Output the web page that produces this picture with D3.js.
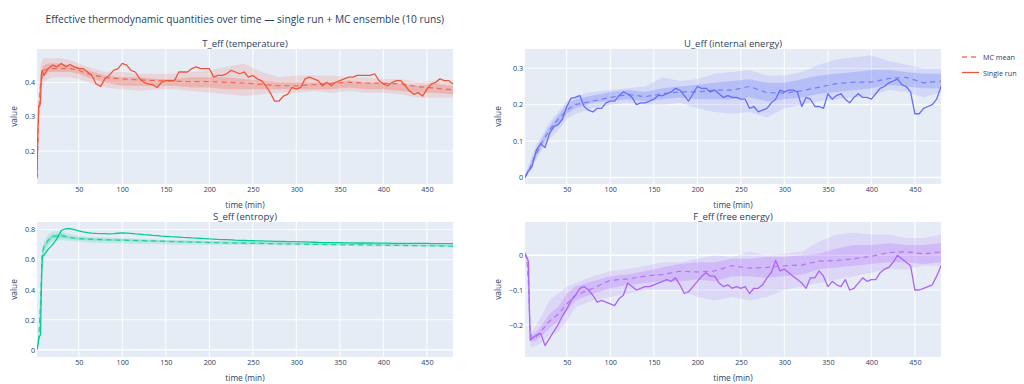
<!DOCTYPE html>
<html>
<head>
<meta charset="utf-8">
<script src="https://cdn.jsdelivr.net/npm/d3@7"></script>
<style>
  body { margin: 0; background: #fff; }
  text { font-family: "Open Sans", verdana, arial, sans-serif; fill: #2a3f5f; }
</style>
</head>
<body>
<svg id="chart" width="1024" height="384"></svg>
<script>
// time grid of the single run (minutes)
const times = [2,3,4,5,6,7,8,10,15,20,25,30,35,40,45,50,55,60,65,70,75,80,85,90,95,100,
  105,110,115,120,125,130,135,140,145,150,155,160,165,170,175,180,185,190,195,200,
  205,210,215,220,225,230,235,240,245,250,255,260,265,270,275,280,285,290,295,300,
  305,310,315,320,325,330,335,340,345,350,355,360,365,370,375,380,385,390,395,400,
  405,410,415,420,425,430,435,440,445,450,455,460,465,470,475,480];

// coarser grid for the MC ensemble mean and bands
const bandTimes = [2,4,6,8,10,15,20,30,40,50,60,80,100,120,140,160,180,200,220,240,260,280,300,320,340,360,380,400,420,440,460,480];

// ---- T_eff
const tSingle = [0.125,0.26,0.33,0.33,0.34,0.42,0.435,0.42,0.44,0.45,0.445,0.455,0.445,0.452,0.445,0.44,0.44,0.43,0.42,0.395,0.388,0.41,0.42,0.435,0.44,0.455,
  0.45,0.435,0.43,0.41,0.40,0.395,0.393,0.385,0.40,0.405,0.405,0.405,0.43,0.43,0.43,0.44,0.445,0.44,0.44,0.44,
  0.415,0.42,0.42,0.425,0.435,0.43,0.425,0.43,0.415,0.42,0.41,0.405,0.39,0.37,0.345,0.345,0.36,0.365,0.385,0.38,
  0.385,0.41,0.415,0.41,0.405,0.39,0.40,0.39,0.40,0.405,0.41,0.415,0.415,0.42,0.42,0.42,0.42,0.425,0.405,0.395,
  0.39,0.40,0.405,0.405,0.39,0.375,0.365,0.37,0.36,0.38,0.395,0.40,0.41,0.405,0.405,0.395];
const tMean = [0.12,0.32,0.39,0.42,0.435,0.44,0.44,0.44,0.44,0.435,0.425,0.414,0.41,0.407,0.405,0.403,0.402,0.402,0.40,0.398,0.394,0.39,0.39,0.393,0.397,0.40,0.398,0.397,0.396,0.387,0.383,0.378];
const tOuterLo = [0.115,0.30,0.36,0.39,0.40,0.41,0.415,0.415,0.415,0.41,0.40,0.385,0.38,0.375,0.38,0.38,0.375,0.37,0.365,0.36,0.365,0.37,0.37,0.375,0.37,0.375,0.37,0.37,0.365,0.355,0.355,0.355];
const tOuterHi = [0.13,0.37,0.45,0.465,0.47,0.47,0.47,0.47,0.465,0.455,0.445,0.43,0.43,0.425,0.425,0.425,0.43,0.435,0.445,0.455,0.43,0.415,0.42,0.42,0.42,0.415,0.415,0.41,0.41,0.40,0.405,0.40];
const tInnerLo = [0.118,0.31,0.375,0.405,0.42,0.43,0.43,0.43,0.43,0.425,0.415,0.40,0.39,0.39,0.39,0.39,0.385,0.385,0.38,0.38,0.38,0.38,0.38,0.38,0.38,0.385,0.38,0.38,0.375,0.37,0.37,0.365];
const tInnerHi = [0.125,0.34,0.41,0.44,0.45,0.455,0.455,0.455,0.45,0.445,0.435,0.42,0.415,0.415,0.41,0.41,0.415,0.415,0.415,0.41,0.405,0.40,0.40,0.40,0.40,0.405,0.40,0.40,0.395,0.39,0.395,0.39];

// ---- U_eff
const uSingle = [0.0,0.005,0.01,0.015,0.018,0.02,0.023,0.03,0.075,0.093,0.082,0.12,0.14,0.145,0.16,0.195,0.218,0.22,0.225,0.195,0.185,0.18,0.19,0.19,0.205,0.21,
  0.21,0.225,0.235,0.23,0.22,0.20,0.205,0.205,0.21,0.215,0.225,0.225,0.23,0.235,0.245,0.24,0.225,0.21,0.23,0.25,
  0.245,0.245,0.235,0.24,0.23,0.22,0.225,0.22,0.22,0.215,0.215,0.19,0.195,0.18,0.185,0.19,0.205,0.215,0.24,0.235,
  0.24,0.24,0.235,0.195,0.22,0.215,0.195,0.195,0.19,0.23,0.215,0.225,0.23,0.215,0.205,0.22,0.23,0.22,0.22,0.215,
  0.23,0.245,0.25,0.26,0.265,0.27,0.255,0.25,0.235,0.175,0.175,0.19,0.195,0.20,0.215,0.25];
const uMean = [0,0.008,0.017,0.027,0.04,0.065,0.09,0.13,0.16,0.185,0.20,0.21,0.22,0.228,0.222,0.23,0.235,0.235,0.24,0.24,0.25,0.233,0.232,0.238,0.248,0.258,0.262,0.262,0.272,0.275,0.26,0.265];
const uOuterLo = [0,0.005,0.01,0.018,0.03,0.05,0.07,0.105,0.13,0.16,0.175,0.19,0.20,0.205,0.20,0.20,0.205,0.19,0.18,0.175,0.18,0.165,0.19,0.20,0.21,0.215,0.22,0.225,0.24,0.235,0.22,0.235];
const uOuterHi = [0.002,0.02,0.035,0.045,0.06,0.09,0.11,0.15,0.18,0.21,0.225,0.235,0.24,0.245,0.25,0.275,0.265,0.27,0.285,0.29,0.295,0.28,0.28,0.29,0.31,0.325,0.33,0.335,0.32,0.31,0.30,0.30];
const uInnerLo = [0,0.006,0.013,0.022,0.035,0.058,0.08,0.12,0.145,0.175,0.19,0.205,0.21,0.215,0.21,0.215,0.22,0.215,0.215,0.215,0.22,0.21,0.215,0.22,0.23,0.235,0.24,0.245,0.255,0.25,0.245,0.245];
const uInnerHi = [0.001,0.012,0.025,0.035,0.05,0.075,0.10,0.14,0.17,0.20,0.215,0.225,0.235,0.24,0.235,0.245,0.25,0.255,0.26,0.265,0.27,0.26,0.26,0.27,0.28,0.285,0.29,0.295,0.295,0.29,0.285,0.285];

// ---- S_eff
const sSingle = [0,0.03,0.07,0.09,0.10,0.40,0.62,0.63,0.67,0.70,0.74,0.795,0.806,0.806,0.80,0.792,0.785,0.78,0.777,0.775,0.774,0.773,0.772,0.773,0.776,0.778,
  0.777,0.775,0.772,0.77,0.767,0.765,0.762,0.76,0.757,0.755,0.753,0.752,0.75,0.748,0.747,0.745,0.744,0.742,0.74,0.738,
  0.737,0.735,0.734,0.733,0.732,0.73,0.729,0.728,0.727,0.726,0.725,0.725,0.724,0.723,0.722,0.722,0.721,0.72,0.72,0.72,
  0.719,0.718,0.717,0.716,0.715,0.714,0.713,0.713,0.713,0.713,0.712,0.712,0.712,0.711,0.711,0.711,0.711,0.71,0.71,0.71,
  0.71,0.709,0.709,0.709,0.709,0.708,0.708,0.708,0.708,0.708,0.707,0.707,0.707,0.707,0.707,0.707];
const sMean = [0,0.08,0.3,0.64,0.69,0.73,0.755,0.76,0.747,0.74,0.737,0.733,0.73,0.727,0.724,0.72,0.717,0.714,0.712,0.71,0.708,0.706,0.704,0.702,0.70,0.699,0.698,0.696,0.695,0.693,0.691,0.689];
const sOuterLo = [0,0.05,0.2,0.55,0.62,0.69,0.72,0.73,0.725,0.72,0.715,0.71,0.71,0.705,0.705,0.70,0.70,0.70,0.70,0.697,0.696,0.695,0.694,0.693,0.692,0.691,0.69,0.689,0.688,0.686,0.684,0.682];
const sOuterHi = [0.005,0.15,0.45,0.68,0.72,0.77,0.79,0.79,0.77,0.76,0.755,0.75,0.745,0.74,0.735,0.73,0.73,0.725,0.722,0.72,0.718,0.716,0.715,0.713,0.712,0.71,0.708,0.706,0.705,0.703,0.701,0.70];
const sInnerLo = [0,0.07,0.26,0.6,0.66,0.71,0.74,0.745,0.74,0.732,0.73,0.725,0.722,0.72,0.717,0.714,0.712,0.71,0.708,0.706,0.705,0.703,0.702,0.70,0.699,0.698,0.697,0.695,0.694,0.692,0.69,0.688];
const sInnerHi = [0.002,0.1,0.36,0.66,0.70,0.745,0.77,0.775,0.755,0.748,0.745,0.74,0.737,0.733,0.73,0.727,0.725,0.722,0.72,0.717,0.715,0.713,0.711,0.709,0.708,0.707,0.705,0.703,0.702,0.70,0.698,0.696];

// ---- F_eff
const fSingle = [0.005,0.0,-0.005,-0.01,-0.02,-0.15,-0.245,-0.24,-0.23,-0.225,-0.26,-0.24,-0.22,-0.20,-0.175,-0.155,-0.13,-0.115,-0.095,-0.09,-0.10,-0.115,-0.135,-0.13,-0.135,-0.14,
  -0.145,-0.125,-0.115,-0.08,-0.09,-0.10,-0.095,-0.09,-0.09,-0.085,-0.08,-0.075,-0.07,-0.075,-0.065,-0.085,-0.11,-0.105,-0.09,-0.075,
  -0.06,-0.05,-0.06,-0.06,-0.08,-0.09,-0.085,-0.095,-0.09,-0.095,-0.09,-0.11,-0.095,-0.095,-0.085,-0.065,-0.05,-0.015,-0.045,-0.04,
  -0.05,-0.06,-0.07,-0.08,-0.095,-0.065,-0.065,-0.045,-0.06,-0.09,-0.075,-0.085,-0.09,-0.07,-0.10,-0.095,-0.08,-0.065,-0.075,-0.07,
  -0.07,-0.05,-0.04,-0.035,-0.02,0.0,-0.01,-0.02,-0.03,-0.10,-0.10,-0.095,-0.09,-0.085,-0.06,-0.03];
const fMean = [0.005,-0.01,-0.08,-0.22,-0.24,-0.235,-0.22,-0.19,-0.17,-0.14,-0.115,-0.095,-0.072,-0.068,-0.06,-0.055,-0.046,-0.048,-0.045,-0.03,-0.037,-0.035,-0.03,-0.028,-0.017,-0.015,-0.01,-0.003,0.008,0.01,0.004,0.01];
const fOuterLo = [0.0,-0.03,-0.15,-0.26,-0.265,-0.26,-0.255,-0.23,-0.22,-0.19,-0.15,-0.13,-0.12,-0.11,-0.10,-0.10,-0.10,-0.12,-0.13,-0.12,-0.13,-0.12,-0.10,-0.09,-0.08,-0.07,-0.06,-0.05,-0.04,-0.04,-0.03,-0.03];
const fOuterHi = [0.01,0.005,-0.02,-0.2,-0.22,-0.2,-0.18,-0.13,-0.11,-0.09,-0.08,-0.06,-0.045,-0.04,-0.03,-0.02,-0.02,-0.01,0.0,-0.005,0.01,0.0,0.005,0.01,0.04,0.06,0.065,0.06,0.06,0.05,0.05,0.06];
const fInnerLo = [0.003,-0.015,-0.1,-0.235,-0.25,-0.245,-0.235,-0.21,-0.19,-0.16,-0.13,-0.11,-0.095,-0.085,-0.08,-0.075,-0.075,-0.07,-0.075,-0.06,-0.06,-0.065,-0.06,-0.055,-0.04,-0.035,-0.03,-0.025,-0.02,-0.02,-0.025,-0.02];
const fInnerHi = [0.007,-0.005,-0.05,-0.21,-0.23,-0.22,-0.205,-0.17,-0.15,-0.11,-0.09,-0.075,-0.06,-0.055,-0.045,-0.035,-0.025,-0.02,-0.02,-0.01,-0.01,-0.005,-0.005,0.0,0.005,0.02,0.03,0.03,0.035,0.03,0.03,0.035];

const xTicks = [50,100,150,200,250,300,350,400,450];

let svg = d3.select("#chart");
svg.append("rect").attr("width", 1024).attr("height", 384).attr("fill", "#fff");

let panels = [
    { title: "T_eff (temperature)", color: "#EF553B", x0: 37, y0: 49, yDomain: [0.104, 0.497], yTicks: [0.2, 0.3, 0.4],
      single: tSingle, mean: tMean, oLo: tOuterLo, oHi: tOuterHi, iLo: tInnerLo, iHi: tInnerHi },
    { title: "U_eff (internal energy)", color: "#636EFA", x0: 525, y0: 49, yDomain: [-0.018, 0.353], yTicks: [0, 0.1, 0.2, 0.3],
      single: uSingle, mean: uMean, oLo: uOuterLo, oHi: uOuterHi, iLo: uInnerLo, iHi: uInnerHi },
    { title: "S_eff (entropy)", color: "#00CC96", x0: 37, y0: 222, yDomain: [-0.0485, 0.851], yTicks: [0, 0.2, 0.4, 0.6, 0.8],
      single: sSingle, mean: sMean, oLo: sOuterLo, oHi: sOuterHi, iLo: sInnerLo, iHi: sInnerHi },
    { title: "F_eff (free energy)", color: "#AB63FA", x0: 525, y0: 222, yDomain: [-0.293, 0.096], yTicks: [-0.2, -0.1, 0],
      single: fSingle, mean: fMean, oLo: fOuterLo, oHi: fOuterHi, iLo: fInnerLo, iHi: fInnerHi }
];

let pw = 416, ph = 135;
let fmt = d3.format("~g");

panels.forEach((p, k) => {
    let x = d3.scaleLinear().domain([2, 480]).range([0, pw]);
    let y = d3.scaleLinear().domain(p.yDomain).range([ph, 0]);
    let g = svg.append("g").attr("transform", "translate(" + p.x0 + "," + p.y0 + ")");

    g.append("clipPath").attr("id", "clip" + k)
        .append("rect").attr("width", pw).attr("height", ph);

    g.append("rect").attr("width", pw).attr("height", ph).attr("fill", "#E5ECF6");

    // grid
    g.selectAll(".xg").data(xTicks).enter().append("line")
        .attr("x1", d => x(d)).attr("x2", d => x(d))
        .attr("y1", 0).attr("y2", ph)
        .attr("stroke", "#fff").attr("stroke-width", 1);
    g.selectAll(".yg").data(p.yTicks).enter().append("line")
        .attr("x1", 0).attr("x2", pw)
        .attr("y1", d => y(d)).attr("y2", d => y(d))
        .attr("stroke", "#fff").attr("stroke-width", d => d === 0 ? 1.6 : 1);

    let plot = g.append("g").attr("clip-path", "url(#clip" + k + ")");

    // ensemble bands
    let band = (lo, hi) => d3.area()
        .x((d, i) => x(bandTimes[i]))
        .y0((d, i) => y(lo[i]))
        .y1((d, i) => y(hi[i]));
    plot.append("path").datum(p.oLo).attr("d", band(p.oLo, p.oHi))
        .attr("fill", p.color).attr("fill-opacity", 0.15);
    plot.append("path").datum(p.iLo).attr("d", band(p.iLo, p.iHi))
        .attr("fill", p.color).attr("fill-opacity", 0.25);

    // mean (dashed)
    plot.append("path").datum(p.mean)
        .attr("d", d3.line().x((d, i) => x(bandTimes[i])).y(d => y(d)))
        .attr("fill", "none").attr("stroke", p.color).attr("stroke-width", 1.2)
        .attr("stroke-dasharray", "5,4").attr("stroke-opacity", 0.8);

    // single run
    plot.append("path").datum(p.single)
        .attr("d", d3.line().x((d, i) => x(times[i])).y(d => y(d)))
        .attr("fill", "none").attr("stroke", p.color).attr("stroke-width", 1.3)
        .attr("stroke-linejoin", "round");

    // axes
    let xa = g.append("g").attr("transform", "translate(0," + ph + ")")
        .call(d3.axisBottom(x).tickValues(xTicks).tickSize(0).tickPadding(3));
    let ya = g.append("g")
        .call(d3.axisLeft(y).tickValues(p.yTicks).tickSize(0).tickPadding(2).tickFormat(fmt));
    [xa, ya].forEach(a => {
        a.select(".domain").remove();
        a.selectAll("text").attr("font-size", 7.2).attr("fill", "#2a3f5f")
            .style("font-family", '"Open Sans", verdana, arial, sans-serif');
    });

    // titles
    g.append("text").attr("x", pw / 2).attr("y", -6).attr("text-anchor", "middle")
        .attr("dominant-baseline", "central").attr("font-size", 9.5).text(p.title);
    g.append("text").attr("x", pw / 2).attr("y", ph + 20).attr("text-anchor", "middle")
        .attr("dominant-baseline", "central").attr("font-size", 8.3).text("time (min)");
    g.append("text").attr("transform", "translate(" + (k % 2 ? -28 : -24) + "," + ph / 2 + ") rotate(-90)")
        .attr("text-anchor", "middle").attr("dominant-baseline", "central")
        .attr("font-size", 8.3).text("value");
});

// main title
svg.append("text").attr("x", 45.5).attr("y", 19).attr("dominant-baseline", "central")
    .attr("font-size", 10.2).text("Effective thermodynamic quantities over time — single run + MC ensemble (10 runs)");

// legend
let legend = svg.append("g").attr("transform", "translate(962,57)");
let legendItems = [
    { name: "MC mean", dash: "5,4", opacity: 0.8 },
    { name: "Single run", dash: null, opacity: 1 }
];
legendItems.forEach((d, i) => {
    let row = legend.append("g").attr("transform", "translate(0," + i * 15.5 + ")");
    row.append("line").attr("x1", 0).attr("x2", 17).attr("y1", 0).attr("y2", 0)
        .attr("stroke", "#EF553B").attr("stroke-width", 1.3)
        .attr("stroke-dasharray", d.dash).attr("stroke-opacity", d.opacity);
    row.append("text").attr("x", 21).attr("y", 0).attr("dominant-baseline", "central")
        .attr("font-size", 7.2).text(d.name);
});
</script>
</body>
</html>
